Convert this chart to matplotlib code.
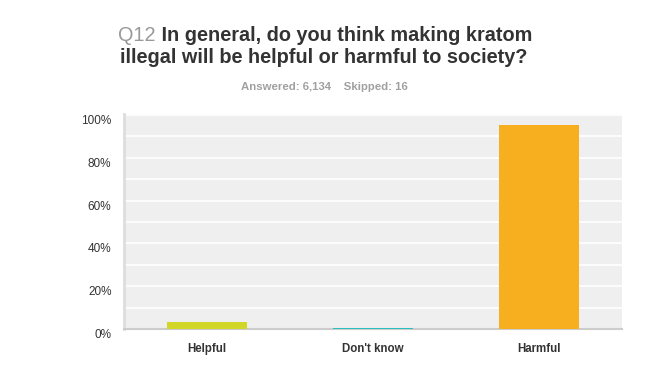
import matplotlib.pyplot as plt
import numpy as np

plt.rcParams['font.family'] = ['Liberation Sans', 'DejaVu Sans']

# data
categories = ["Helpful", "Don't know", "Harmful"]
values = [3.4, 0.6, 95.4]
colors = ["#d1d628", "#2cbfc2", "#f7af1f"]
yticks = [0, 20, 40, 60, 80, 100]

fig = plt.figure(figsize=(6.5, 3.87), dpi=100)
ax = fig.add_axes([124 / 650, 1 - 329 / 387, 498 / 650, 215 / 387])
ax.set_facecolor("#efefef")

x = np.arange(len(categories))
ax.bar(x, values, width=0.48, color=colors, zorder=3)

ax.set_xlim(-0.5, 2.5)
ax.set_ylim(0, 100.5)
ax.set_yticks(yticks)
ax.set_yticks(np.arange(10, 100, 20), minor=True)
ax.yaxis.grid(True, which="both", color="white", linewidth=1.2, zorder=1)
ax.set_axisbelow(True)
ax.set_yticklabels([f"{v}%" for v in yticks], fontsize=8.5, color="#333333")
ax.tick_params(axis="y", which="both", length=0, pad=9)
for lab in ax.get_yticklabels():
    lab.set_verticalalignment("top")

ax.set_xticks(x)
ax.set_xticklabels(categories, fontsize=8.3, fontweight="bold", color="#333333")
ax.tick_params(axis="x", length=0, pad=10)

for s in ["top", "right"]:
    ax.spines[s].set_visible(False)
ax.spines["left"].set_color("#dddddd")
ax.spines["left"].set_linewidth(2)
ax.spines["bottom"].set_color("#cccccc")
ax.spines["bottom"].set_linewidth(1.5)

# title: "Q12" in gray, rest bold dark
t1 = fig.text(118 / 650, 1 - 41 / 387, "Q12", fontsize=14.3, color="#999999",
              ha="left", va="baseline")
ax.annotate(" In general, do you think making kratom", xy=(1, 0), xycoords=t1,
            fontsize=14.3, fontweight="bold", color="#333333",
            ha="left", va="bottom", annotation_clip=False)
fig.text(324 / 650, 1 - 63 / 387, "illegal will be helpful or harmful to society?",
         fontsize=14.3, fontweight="bold", color="#333333", ha="center", va="baseline")
fig.text(324 / 650, 1 - 87 / 387, "Answered: 6,134    Skipped: 16", fontsize=8.2,
         fontweight="bold", color="#a0a0a0", ha="center", va="center")

fig.savefig("out.png", dpi=100)
